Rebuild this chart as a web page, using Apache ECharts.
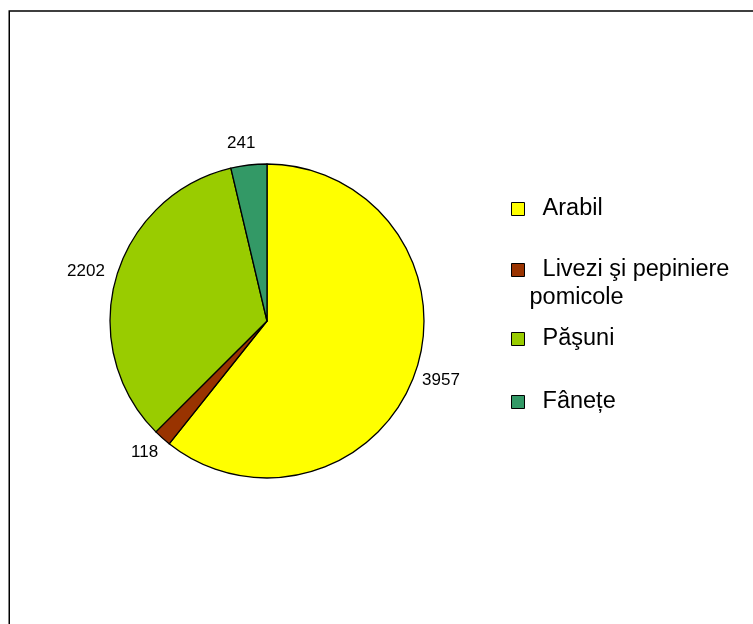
<!DOCTYPE html>
<html>
<head>
<meta charset="utf-8">
<script src="https://cdn.jsdelivr.net/npm/echarts@6/dist/echarts.min.js"></script>
<style>
html,body{margin:0;padding:0;background:#fff;}
#c{width:753px;height:624px;}
</style>
</head>
<body>
<div id="c"></div>
<script>
// ---- data ----
var categories = ['Arabil', 'Livezi şi pepiniere pomicole', 'Păşuni', 'Fânețe'];
var values = [3957, 118, 2202, 241];
var colors = ['#FFFF00', '#993300', '#99CC00', '#339966'];
// label line lengths per slice (label placement only)
var labelLens = [22, 19, 26, 22];
// legend item vertical positions (px)
var legendTops = [195, 228, 325, 388];

var FONT = '"Liberation Sans", Arial, sans-serif';

function wrapName(name) {
  if (name.length > 20) {
    var i = name.lastIndexOf(' ');
    // leading empty line keeps the swatch level with the first text line
    return '\n  ' + name.slice(0, i) + '\n' + name.slice(i + 1);
  }
  return '  ' + name;
}

var pieData = categories.map(function (n, i) {
  return {
    name: n,
    value: values[i],
    itemStyle: { color: colors[i] },
    labelLine: { show: false, length: labelLens[i], length2: 0 }
  };
});

var legends = categories.map(function (n, i) {
  return {
    data: [n],
    orient: 'vertical',
    left: 511,
    top: legendTops[i],
    padding: 0,
    itemWidth: 13,
    itemHeight: 13,
    icon: 'rect',
    itemStyle: { borderColor: '#000', borderWidth: 1 },
    formatter: wrapName,
    textStyle: {
      fontFamily: FONT,
      fontSize: 23.5,
      color: '#000',
      lineHeight: 28
    },
    selectedMode: false
  };
});

var chart = echarts.init(document.getElementById('c'), null, { renderer: 'canvas' });
chart.setOption({
  backgroundColor: '#fff',
  animation: false,
  graphic: [{
    type: 'rect',
    shape: { x: 9.25, y: 11, width: 900, height: 800 },
    style: { fill: 'none', stroke: '#000', lineWidth: 1.5 },
    z: 100
  }],
  legend: legends,
  series: [{
    type: 'pie',
    center: [267, 321],
    radius: 157,
    startAngle: 90,
    clockwise: true,
    avoidLabelOverlap: false,
    data: pieData,
    itemStyle: { borderColor: '#000', borderWidth: 1.3 },
    label: {
      show: true,
      position: 'outside',
      formatter: '{c}',
      fontFamily: FONT,
      fontSize: 17,
      color: '#000',
      distanceToLabelLine: 5
    },
    labelLayout: { align: 'center' },
    labelLine: { show: false },
    emphasis: { disabled: true }
  }]
});
</script>
</body>
</html>
